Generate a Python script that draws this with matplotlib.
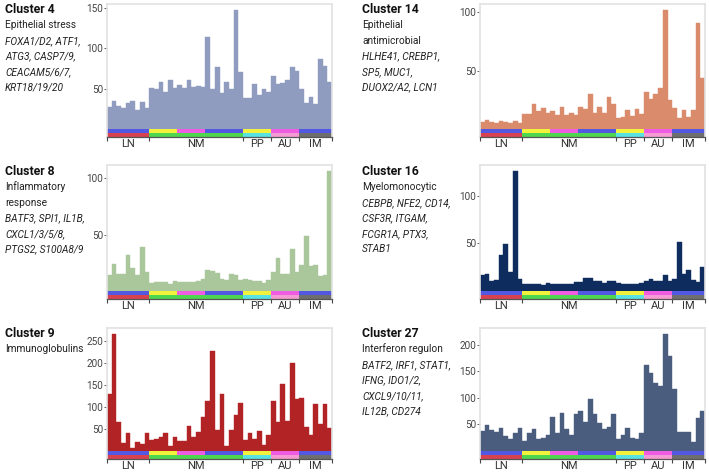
import matplotlib
matplotlib.use("Agg")
import matplotlib.pyplot as plt

plt.rcParams["font.family"] = ["Roboto", "DejaVu Sans"]

# sample groups along the x axis
group_names = ["LN", "NM", "PP", "AU", "IM"]
group_sizes = [9, 20, 6, 6, 7]

# two annotation strips below the bars (one code per bar)
top_codes = ["B"] * 9 + ["Y"] * 6 + ["M"] * 6 + ["B"] * 8 + ["Y"] * 6 + ["M"] * 6 + ["B"] * 7
bottom_codes = ["R"] * 9 + ["G"] * 20 + ["C"] * 6 + ["P"] * 6 + ["K"] * 7
strip_colors = {"B": "#5258E2", "Y": "#F2F23C", "M": "#EE5CE2", "R": "#D8414F",
                "G": "#4FD64F", "C": "#58E2E2", "P": "#F59AD2", "K": "#6E6E6E"}

# bar heights per cluster
c4 = [27, 34, 28, 26, 32, 35, 24, 33, 26,
      51, 49, 58, 46, 60, 51, 54, 51, 60, 52, 53, 52, 113, 50, 76, 45, 58, 49, 147, 71,
      38, 38, 56, 42, 50, 46,
      65, 55, 57, 60, 76, 72,
      49, 32, 40, 31, 87, 78, 58]
c14 = [6, 7.5, 6, 5, 7, 6, 5.5, 7, 5,
       13, 13, 21, 15, 18, 14, 15, 12, 19, 12, 13.5, 12, 19, 17, 30, 14, 19, 14, 27, 21,
       9, 10, 16, 11, 17.5, 13,
       32, 26, 30, 35, 102, 25,
       18, 9, 16, 10, 16, 91, 44]
c8 = [14, 24, 15, 15, 32, 20, 14, 39, 17,
      7, 8, 8, 8, 6.5, 8.5, 8, 8, 8, 8, 9, 11, 19, 18, 16, 11, 10, 15, 14, 10,
      11, 10, 9, 9, 7, 9.5,
      17, 29, 15, 15, 37, 17,
      23, 49, 22, 23, 13, 14, 106.5]
c16 = [17, 18, 10, 12, 37.5, 49, 20, 126, 12.5,
       7, 7, 7, 7.5, 6, 8, 7, 7, 7, 7.5, 7.5, 9, 9, 13.5, 14, 11, 10, 8.5, 10, 10,
       8, 7.5, 7.5, 7.5, 7, 8,
       11, 13, 10, 11, 16.5, 11,
       13, 51, 18, 22.5, 12, 9, 25]
c9 = [130, 267, 67, 18, 42, 7.5, 19.5, 15, 42,
      24, 28, 32, 42, 11, 31, 23, 23, 56, 33, 43, 78, 114, 228, 48, 130, 12, 48, 82, 109,
      24, 40, 27, 46, 13, 37,
      114, 67, 153, 68, 201, 118,
      121, 55, 37, 108, 61, 108, 52]
c27 = [37, 49, 39, 36.5, 43, 28, 23, 33, 43,
       19, 34, 41, 23.5, 25, 30, 64, 33, 72.5, 41, 30, 69, 75.6, 54.5, 98.5, 69, 52.7, 42, 46, 70,
       23.5, 31, 43, 24, 23.5, 33,
       162, 147.5, 127.6, 123, 220.6, 178,
       116, 36.5, 36, 35, 17, 63, 75.6]

panels = [
    ("Cluster 4", ["Epithelial stress"],
     ["FOXA1/D2, ATF1,", "ATG3, CASP7/9,", "CEACAM5/6/7,", "KRT18/19/20"],
     c4, "#8F9BBF", [50, 100, 150]),
    ("Cluster 14", ["Epithelial", "antimicrobial"],
     ["HLHE41, CREBP1,", "SP5, MUC1,", "DUOX2/A2, LCN1"],
     c14, "#D98B6B", [50, 100]),
    ("Cluster 8", ["Inflammatory", "response"],
     ["BATF3, SPI1, IL1B,", "CXCL1/3/5/8,", "PTGS2, S100A8/9"],
     c8, "#A9C79B", [50, 100]),
    ("Cluster 16", ["Myelomonocytic"],
     ["CEBPB, NFE2, CD14,", "CSF3R, ITGAM,", "FCGR1A, PTX3,", "STAB1"],
     c16, "#0E2D5E", [50, 100]),
    ("Cluster 9", ["Immunoglobulins"], [],
     c9, "#B22326", [50, 100, 150, 200, 250]),
    ("Cluster 27", ["Interferon regulon"],
     ["BATF2, IRF1, STAT1,", "IFNG, IDO1/2,", "CXCL9/10/11,", "IL12B, CD274"],
     c27, "#4A5D7F", [50, 100, 150, 200]),
]

W, H = 709, 474
fig = plt.figure(figsize=(W / 100, H / 100), dpi=100, facecolor="white")

# pixel layout: (axes top, axes bottom, text baseline of title)
rows = [(4, 137, 13), (165, 299, 175), (328, 459, 337)]
cols = [(107, 332, 5), (480, 705, 362)]
strip_px = 8

for k, (title, desc, genes, vals, color, yticks) in enumerate(panels):
    top, bot, tb = rows[k // 2]
    left, right, tx = cols[k % 2]

    # text block
    fig.text(tx / W, 1 - tb / H, title, fontsize=8.8, fontweight="bold",
             color="#111111", va="baseline")
    y = tb
    for line in desc:
        y += 15.5
        fig.text(tx / W, 1 - y / H, line, fontsize=7.3, color="#222222", va="baseline")
    for line in genes:
        y += 15.5
        fig.text(tx / W, 1 - y / H, line, fontsize=7.3, color="#222222",
                 fontstyle="italic", va="baseline")

    ax = fig.add_axes([left / W, 1 - bot / H, (right - left) / W, (bot - top) / H])
    n = len(vals)
    ymax = max(vals) * 1.05
    f = strip_px / (bot - top)
    ax.set_ylim(-ymax * f / (1 - f), ymax)
    ax.set_xlim(-0.5, n - 0.5)

    ax.bar(range(n), vals, width=1.0, color=color, edgecolor=color, linewidth=0.3)

    # annotation strips
    trans = ax.get_xaxis_transform()
    for i in range(n):
        ax.broken_barh([(i - 0.5, 1.0)], (f / 2, f / 2), facecolors=strip_colors[top_codes[i]],
                       transform=trans, linewidth=0)
        ax.broken_barh([(i - 0.5, 1.0)], (0, f / 2), facecolors=strip_colors[bottom_codes[i]],
                       transform=trans, linewidth=0)

    # group boundaries and labels
    bounds = [-0.5]
    for s in group_sizes:
        bounds.append(bounds[-1] + s)
    ax.set_xticks(bounds)
    ax.set_xticklabels([])
    ax.set_xticks([(bounds[i] + bounds[i + 1]) / 2 for i in range(len(group_names))], minor=True)
    ax.set_xticklabels(group_names, minor=True)
    ax.tick_params(axis="x", which="major", length=3, width=0.8, color="#444444", direction="out")
    ax.tick_params(axis="x", which="minor", length=0, pad=1.5, labelsize=8, labelcolor="#333333")

    ax.set_yticks(yticks)
    ax.tick_params(axis="y", length=2, width=0.6, pad=0.5, labelsize=7.2, labelcolor="#444444",
                   color="#444444")

    for side in ["top", "right", "left"]:
        ax.spines[side].set_color("#E2E2E2")
        ax.spines[side].set_linewidth(1.2)
    ax.spines["bottom"].set_color("#555555")
    ax.spines["bottom"].set_linewidth(0.9)

fig.savefig("out.png", dpi=100, facecolor="white")
